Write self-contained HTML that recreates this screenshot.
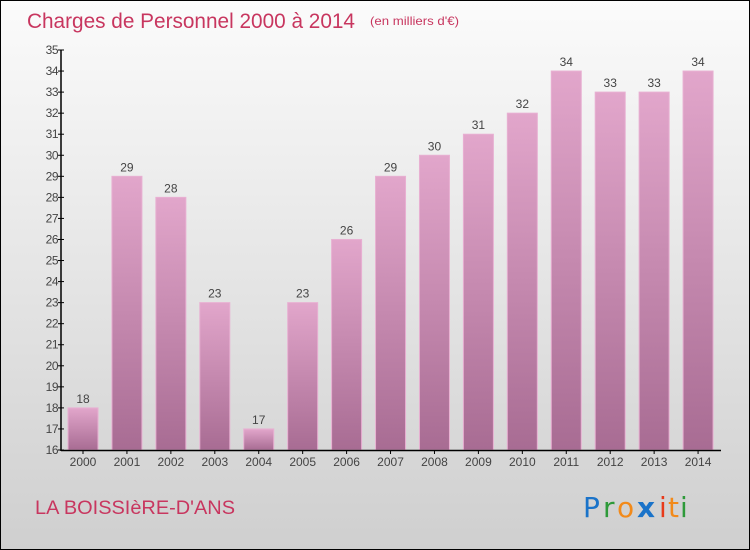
<!DOCTYPE html>
<html><head><meta charset="utf-8"><style>
body{margin:0}
#c{width:750px;height:550px;position:relative;box-sizing:border-box;border:1px solid #000;background:linear-gradient(#fbfbfb,#cfcfcf);font-family:"Liberation Sans",sans-serif;overflow:hidden}
</style></head><body>
<div id="c">
<svg id="s" width="750" height="550" style="position:absolute;left:-1px;top:-1px">
<defs><linearGradient id="g" x1="0" y1="0" x2="0" y2="1"><stop offset="0" stop-color="#e2a6cb"/><stop offset="1" stop-color="#a86c93"/></linearGradient></defs>
<text x="27" y="28" font-size="21" fill="#c8365f" textLength="328" lengthAdjust="spacingAndGlyphs">Charges de Personnel 2000 à 2014</text>
<text x="370" y="25" font-size="12" fill="#c8365f" textLength="89" lengthAdjust="spacingAndGlyphs">(en milliers d'€)</text>
<text x="35" y="514" font-size="19" fill="#c8365f" textLength="200" lengthAdjust="spacingAndGlyphs">LA BOISSIèRE-D'ANS</text>
<g font-size="28" font-family="'DejaVu Sans',sans-serif">
<text x="583" y="517" fill="#1a73c9">P</text><text x="603" y="517" fill="#2e9a3a">r</text><text x="617" y="517" fill="#f28a1a">o</text><text x="637" y="517" fill="#1a73c9" font-weight="bold">x</text><text x="659" y="517" fill="#e83a1a">i</text><text x="668" y="517" fill="#f28a1a">t</text><text x="680" y="517" fill="#2e9a3a">i</text>
</g>
<g id="bars"></g><g id="axes"></g>
</svg>
</div>
<script>
const years=["2000","2001","2002","2003","2004","2005","2006","2007","2008","2009","2010","2011","2012","2013","2014"];
const values=[18,29,28,23,17,23,26,29,30,31,32,34,33,33,34];
const yTicks=[16,17,18,19,20,21,22,23,24,25,26,27,28,29,30,31,32,33,34,35];
const NS="http://www.w3.org/2000/svg";
const x0=62,x1=721,yMin=16,yMax=35,py0=450,py1=50;
const slot=(x1-x0)/years.length;
const Y=v=>py0-(v-yMin)/(yMax-yMin)*(py0-py1);
const X=i=>x0+i*slot;
function mk(t,a,p){const e=document.createElementNS(NS,t);for(const k in a)e.setAttribute(k,a[k]);p.appendChild(e);return e;}
const bars=document.getElementById('bars'),axes=document.getElementById('axes');
values.forEach((v,i)=>{
const r=mk('rect',{x:X(i)+6,y:Y(v),width:30,height:py0-Y(v),fill:'url(#g)',stroke:'#e8b0d2','stroke-width':1},bars);


const t=mk('text',{x:X(i)+21,y:Y(v)-5,'font-size':12,'text-anchor':'middle',fill:'#444'},bars);t.textContent=v;


const xl=mk('text',{x:X(i)+21,y:466,'font-size':12,'text-anchor':'middle',fill:'#444'},axes);xl.textContent=years[i];


mk('line',{x1:X(i)+21,x2:X(i)+21,y1:450,y2:454,stroke:'#000'},axes);
});
const ya=mk('line',{x1:x0-1,x2:x0-1,y1:py1,y2:py0+1,stroke:'#000','stroke-width':1.5},axes);


const xa=mk('line',{x1:x0-1,x2:x1,y1:py0+0.5,y2:py0+0.5,stroke:'#000','stroke-width':1.5},axes);


yTicks.forEach(v=>{
mk('line',{x1:x0-4,x2:x0+2,y1:Y(v),y2:Y(v),stroke:'#000'},axes);
const t=mk('text',{x:x0-4,y:Y(v)+4,'font-size':12,'text-anchor':'end',fill:'#444','letter-spacing':'-0.5'},axes);t.textContent=v;


});
</script>
</body></html>
